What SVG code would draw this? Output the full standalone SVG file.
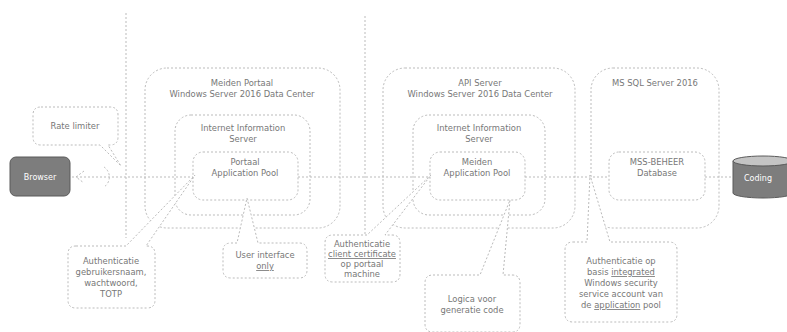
<svg xmlns="http://www.w3.org/2000/svg" width="787" height="332" viewBox="0 0 787 332">
<style>
.b{fill:#fff;stroke:#bbb;stroke-width:1;stroke-dasharray:2 2}
.c{fill:none;stroke:#bbb;stroke-width:1;stroke-dasharray:2 2}
.t{font-family:"DejaVu Sans",sans-serif;font-size:8.4px;fill:#777;text-anchor:middle}
.u{text-decoration:underline}
.w{font-family:"DejaVu Sans",sans-serif;font-size:8px;fill:#fff;text-anchor:middle}
</style>
<rect width="787" height="332" fill="#fff"/>
<g id="boundaries">
<line class="c" x1="126" y1="13" x2="126" y2="238"/>
<line class="c" x1="365" y1="16" x2="365" y2="236"/>
</g>
<g id="portaal-server">
<rect class="b" x="145" y="68" width="195" height="160" rx="22"/>
<text class="t" x="242" y="86">Meiden Portaal</text>
<text class="t" x="242" y="97">Windows Server 2016 Data Center</text>
</g>
<g id="portaal-iis">
<rect class="b" x="175" y="115" width="135" height="100" rx="16"/>
<text class="t" x="243" y="131">Internet Information</text>
<text class="t" x="243" y="142">Server</text>
</g>
<g id="portaal-pool">
<rect class="b" x="193" y="152" width="105" height="48" rx="10"/>
<text class="t" x="245" y="165">Portaal</text>
<text class="t" x="245" y="176">Application Pool</text>
</g>
<g id="api-server">
<rect class="b" x="383" y="68" width="192" height="160" rx="22"/>
<text class="t" x="480" y="86">API Server</text>
<text class="t" x="480" y="97">Windows Server 2016 Data Center</text>
</g>
<g id="api-iis">
<rect class="b" x="413" y="115" width="132" height="100" rx="16"/>
<text class="t" x="479" y="131">Internet Information</text>
<text class="t" x="479" y="142">Server</text>
</g>
<g id="meiden-pool">
<rect class="b" x="430" y="152" width="95" height="48" rx="10"/>
<text class="t" x="477" y="165">Meiden</text>
<text class="t" x="477" y="176">Application Pool</text>
</g>
<g id="sql-server">
<rect class="b" x="591" y="68" width="128" height="160" rx="22"/>
<text class="t" x="655" y="86">MS SQL Server 2016</text>
</g>
<g id="database">
<rect class="b" x="609" y="152" width="96" height="48" rx="10"/>
<text class="t" x="657" y="165">MSS-BEHEER</text>
<text class="t" x="657" y="176">Database</text>
</g>
<g id="browser">
<rect x="10" y="157" width="60" height="39" rx="6" fill="#7d7d7d" stroke="#5a5a5a"/>
<text class="w" x="40" y="180">Browser</text>
</g>
<g id="coding">
<path d="M733,161 L733,193 A30,5 0 0 0 793,193 L793,161" fill="#7d7d7d" stroke="#5a5a5a"/>
<ellipse cx="763" cy="161" rx="30" ry="5" fill="#c4c4c4" stroke="#5a5a5a"/>
<text class="w" x="758" y="181">Coding</text>
</g>
<g id="connectors">
<line class="c" x1="72" y1="177" x2="193" y2="177"/>
<path class="c" d="M84,171 L76,177 L84,183"/>
<path class="c" d="M104,167 A12,12 0 0 1 104,187"/>
<line class="c" x1="298" y1="177" x2="430" y2="177"/>
<line class="c" x1="525" y1="177" x2="609" y2="177"/>
<line class="c" x1="705" y1="177" x2="733" y2="177"/>
</g>
<g id="callout-ratelimiter">
<path class="b" d="M41,107 H110 Q118,107 118,115 V137 Q118,145 110,145 H108 L121,166 L100,145 H41 Q33,145 33,137 V115 Q33,107 41,107 Z"/>
<text class="t" x="75" y="129">Rate limiter</text>
</g>
<g id="callout-auth-portaal">
<path class="b" d="M76,246 H126 L195,175 L146,246 H147 Q155,246 155,254 V300 Q155,308 147,308 H76 Q68,308 68,300 V254 Q68,246 76,246 Z"/>
<text class="t" x="111" y="264">Authenticatie</text>
<text class="t" x="111" y="275">gebruikersnaam,</text>
<text class="t" x="111" y="286">wachtwoord,</text>
<text class="t" x="111" y="297">TOTP</text>
</g>
<g id="callout-ui">
<path class="b" d="M231,243 H237 L247,198 L258,243 H299 Q307,243 307,251 V270 Q307,278 299,278 H231 Q223,278 223,270 V251 Q223,243 231,243 Z"/>
<text class="t" x="265" y="258">User interface</text>
<text class="t u" x="265" y="269">only</text>
</g>
<g id="callout-auth-client">
<path class="b" d="M333,235 H367 L431,175 L385,235 H392 Q400,235 400,243 V274 Q400,282 392,282 H333 Q325,282 325,274 V243 Q325,235 333,235 Z"/>
<text class="t" x="362" y="247">Authenticatie</text>
<text class="t" x="362" y="257"><tspan class="u">client certificate</tspan></text>
<text class="t" x="362" y="267">op portaal</text>
<text class="t" x="362" y="277">machine</text>
</g>
<g id="callout-logica">
<path class="b" d="M433,275 H480 L510,200 L503,275 H512 Q520,275 520,283 V324 Q520,332 512,332 H433 Q425,332 425,324 V283 Q425,275 433,275 Z"/>
<text class="t" x="472" y="302">Logica voor</text>
<text class="t" x="472" y="313">generatie code</text>
</g>
<g id="callout-auth-sql">
<path class="b" d="M573,242 H587 L590,175 L610,242 H669 Q677,242 677,250 V314 Q677,322 669,322 H573 Q565,322 565,314 V250 Q565,242 573,242 Z"/>
<text class="t" x="621" y="264">Authenticatie op</text>
<text class="t" x="621" y="275">basis <tspan class="u">integrated</tspan></text>
<text class="t" x="621" y="286">Windows security</text>
<text class="t" x="621" y="297">service account van</text>
<text class="t" x="621" y="308">de <tspan class="u">application</tspan> pool</text>
</g>
</svg>
